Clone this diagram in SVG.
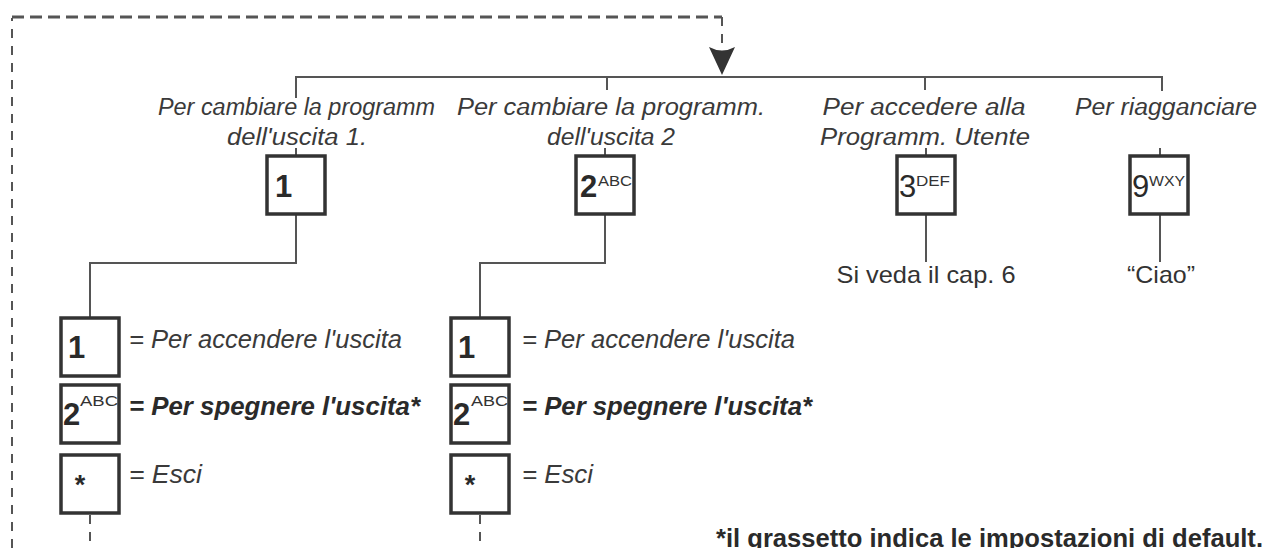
<svg xmlns="http://www.w3.org/2000/svg" width="1266" height="548" viewBox="0 0 1266 548">
<style>
  .box { fill: #fff; stroke: #333; stroke-width: 3.5; }
  .ln { fill: none; stroke: #555; stroke-width: 2; }
  .dash { fill: none; stroke: #555; stroke-width: 2; stroke-dasharray: 9 8; }
  .dashTop { fill: none; stroke: #555; stroke-width: 3; stroke-dasharray: 12 6; }
  .dig { font-family: "Liberation Sans", Arial, sans-serif; font-size: 31px; font-weight: bold; fill: #2a2a2a; }
  .dign { font-family: "Liberation Sans", Arial, sans-serif; font-size: 31px; fill: #2a2a2a; }
  .sup { font-family: "Liberation Sans", Arial, sans-serif; font-size: 14.5px; fill: #333; }
  .ttl { font-family: "Liberation Sans", Arial, sans-serif; font-size: 23px; font-style: italic; fill: #3a3a3a; text-anchor: middle; }
  .lab { font-family: "Liberation Sans", Arial, sans-serif; font-size: 25px; font-style: italic; fill: #3a3a3a; }
  .labb { font-family: "Liberation Sans", Arial, sans-serif; font-size: 25px; font-style: italic; font-weight: bold; fill: #2a2a2a; }
  .note { font-family: "Liberation Sans", Arial, sans-serif; font-size: 24px; fill: #333; text-anchor: middle; }
  .foot { font-family: "Liberation Sans", Arial, sans-serif; font-size: 25px; font-weight: bold; fill: #2a2a2a; }
</style>
<defs>
  <marker id="arr" viewBox="0 0 28 26" refX="28" refY="13" markerWidth="28" markerHeight="26" markerUnits="userSpaceOnUse" orient="auto">
    <path d="M0,0 Q7,13 0,26 L28,13 Z" fill="#333"/>
  </marker>
</defs>
<rect width="1266" height="548" fill="#fff"/>

<g id="connectors">
  <path class="dash" d="M12,548 V18"/>
  <path class="dashTop" d="M12,17 H722"/>
  <path class="dash" d="M722,17 V48"/>
  <path d="M722,60 V75" fill="none" stroke="none" marker-end="url(#arr)"/>
  <path class="dash" d="M90,515 V548"/>
  <path class="dash" d="M480,515 V548"/>
  <path class="ln" d="M296,98 V77 H1162 V91"/>
  <path class="ln" d="M607,77 V90"/>
  <path class="ln" d="M925,77 V90"/>
  <path class="ln" d="M296,148 V156"/>
  <path class="ln" d="M605,148 V156"/>
  <path class="ln" d="M926,148 V156"/>
  <path class="ln" d="M1160,148 V156"/>
  <path class="ln" d="M296,214 V263 H90 V318"/>
  <path class="ln" d="M605,214 V263 H480 V318"/>
  <path class="ln" d="M926,214 V262"/>
  <path class="ln" d="M1160,214 V262"/>
</g>

<g id="node-out1">
  <text class="ttl" x="296.5" y="115" textLength="277" lengthAdjust="spacingAndGlyphs">Per cambiare la programm</text>
  <text class="ttl" x="297" y="145" textLength="140" lengthAdjust="spacingAndGlyphs">dell'uscita 1.</text>
  <rect class="box" x="267" y="156" width="58" height="58"/>
  <text class="dig" x="275" y="197">1</text>
</g>

<g id="node-out2">
  <text class="ttl" x="611" y="115" textLength="308" lengthAdjust="spacingAndGlyphs">Per cambiare la programm.</text>
  <text class="ttl" x="611" y="145" textLength="128" lengthAdjust="spacingAndGlyphs">dell'uscita 2</text>
  <rect class="box" x="576" y="156" width="58" height="58"/>
  <text class="dig" x="580" y="197">2</text>
  <text class="sup" x="598" y="186" textLength="34" lengthAdjust="spacingAndGlyphs">ABC</text>
</g>

<g id="node-user">
  <text class="ttl" x="924" y="115" textLength="203" lengthAdjust="spacingAndGlyphs">Per accedere alla</text>
  <text class="ttl" x="925" y="145" textLength="210" lengthAdjust="spacingAndGlyphs">Programm. Utente</text>
  <rect class="box" x="897" y="156" width="58" height="58"/>
  <text class="dign" x="899" y="197">3</text>
  <text class="sup" x="916" y="186" textLength="34" lengthAdjust="spacingAndGlyphs">DEF</text>
  <text class="note" x="926" y="283" textLength="179" lengthAdjust="spacingAndGlyphs">Si veda il cap. 6</text>
</g>

<g id="node-hangup">
  <text class="ttl" x="1075" y="115" style="text-anchor:start" textLength="182" lengthAdjust="spacingAndGlyphs">Per riagganciare</text>
  <rect class="box" x="1130" y="156" width="58" height="58"/>
  <text class="dign" x="1132" y="197">9</text>
  <text class="sup" x="1149" y="186" textLength="36" lengthAdjust="spacingAndGlyphs">WXY</text>
  <text class="note" x="1161" y="283" textLength="68" lengthAdjust="spacingAndGlyphs">“Ciao”</text>
</g>

<g id="submenu-out1">
  <rect class="box" x="61" y="318" width="58" height="58"/>
  <text class="dig" x="68" y="358">1</text>
  <text class="lab" x="129" y="348" textLength="273" lengthAdjust="spacingAndGlyphs">= Per accendere l'uscita</text>
  <rect class="box" x="61" y="385" width="58" height="58"/>
  <text class="dig" x="63" y="425">2</text>
  <text class="sup" x="80" y="406" textLength="38" lengthAdjust="spacingAndGlyphs">ABC</text>
  <text class="labb" x="129" y="415" textLength="291" lengthAdjust="spacingAndGlyphs">= Per spegnere l'uscita*</text>
  <rect class="box" x="61" y="455" width="58" height="58"/>
  <text class="dig" x="80" y="494" style="text-anchor:middle;font-size:27px">*</text>
  <text class="lab" x="129" y="483" textLength="73" lengthAdjust="spacingAndGlyphs">= Esci</text>
</g>

<g id="submenu-out2">
  <rect class="box" x="451" y="318" width="58" height="58"/>
  <text class="dig" x="458" y="358">1</text>
  <text class="lab" x="522" y="348" textLength="273" lengthAdjust="spacingAndGlyphs">= Per accendere l'uscita</text>
  <rect class="box" x="451" y="385" width="58" height="58"/>
  <text class="dig" x="453" y="425">2</text>
  <text class="sup" x="471" y="406" textLength="37" lengthAdjust="spacingAndGlyphs">ABC</text>
  <text class="labb" x="522" y="415" textLength="290" lengthAdjust="spacingAndGlyphs">= Per spegnere l'uscita*</text>
  <rect class="box" x="451" y="455" width="58" height="58"/>
  <text class="dig" x="470" y="494" style="text-anchor:middle;font-size:27px">*</text>
  <text class="lab" x="522" y="483" textLength="71" lengthAdjust="spacingAndGlyphs">= Esci</text>
</g>

<g id="footnote">
  <text class="foot" x="716" y="547" textLength="547" lengthAdjust="spacingAndGlyphs">*il grassetto indica le impostazioni di default.</text>
</g>
</svg>
